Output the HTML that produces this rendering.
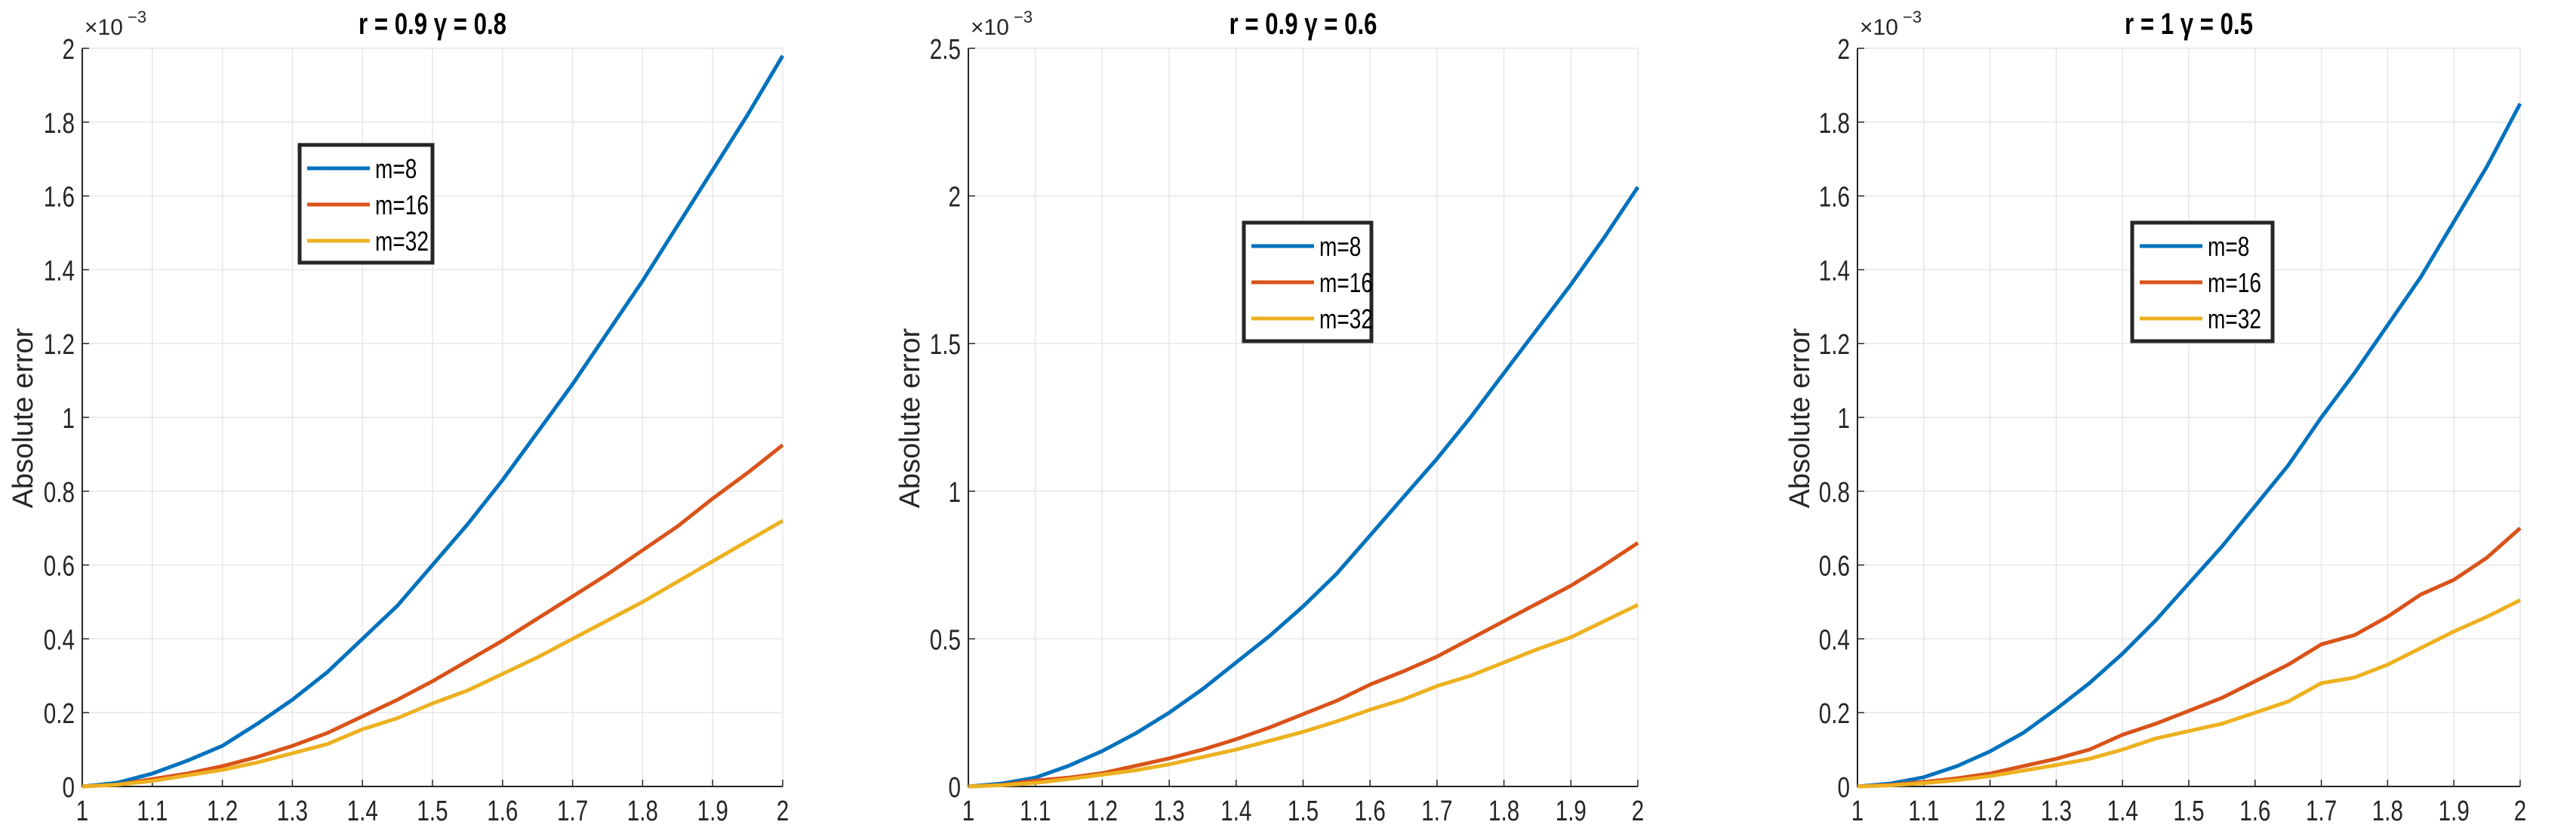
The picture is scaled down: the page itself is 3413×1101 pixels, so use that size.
<!DOCTYPE html>
<html><head><meta charset="utf-8"><style>
html,body{margin:0;padding:0;background:#fff;}
svg text{font-family:"Liberation Sans",sans-serif;}
</style></head><body>
<svg id="chart" width="3413" height="1096" viewBox="0 0 3413 1096" xmlns="http://www.w3.org/2000/svg"></svg>
<script>
const xValues=[1,1.05,1.1,1.15,1.2,1.25,1.3,1.35,1.4,1.45,1.5,1.55,1.6,1.65,1.7,1.75,1.8,1.85,1.9,1.95,2];
const xTicks=[1,1.1,1.2,1.3,1.4,1.5,1.6,1.7,1.8,1.9,2];
const xTickLabels=["1","1.1","1.2","1.3","1.4","1.5","1.6","1.7","1.8","1.9","2"];
const seriesNames=["m=8","m=16","m=32"];
const titles=["r = 0.9 \u03b3 = 0.8","r = 0.9 \u03b3 = 0.6","r = 1 \u03b3 = 0.5"];
const yTicks1=[0,0.2,0.4,0.6,0.8,1,1.2,1.4,1.6,1.8,2];
const yTickLabels1=["0","0.2","0.4","0.6","0.8","1","1.2","1.4","1.6","1.8","2"];
const yTicks2=[0,0.5,1,1.5,2,2.5];
const yTickLabels2=["0","0.5","1","1.5","2","2.5"];
const p1m8=[0,0.01,0.035,0.07,0.11,0.17,0.235,0.31,0.40,0.49,0.60,0.71,0.83,0.96,1.09,1.23,1.37,1.52,1.67,1.82,1.98];
const p1m16=[0,0.005,0.02,0.035,0.055,0.08,0.11,0.145,0.19,0.235,0.285,0.34,0.395,0.455,0.515,0.575,0.64,0.705,0.78,0.85,0.925];
const p1m32=[0,0.005,0.015,0.03,0.045,0.065,0.09,0.115,0.155,0.185,0.225,0.26,0.305,0.35,0.40,0.45,0.50,0.555,0.61,0.665,0.72];
const p2m8=[0,0.01,0.03,0.07,0.12,0.18,0.25,0.33,0.42,0.51,0.61,0.72,0.85,0.98,1.11,1.25,1.40,1.55,1.70,1.86,2.03];
const p2m16=[0,0.005,0.02,0.03,0.045,0.07,0.095,0.125,0.16,0.2,0.245,0.29,0.345,0.39,0.44,0.5,0.56,0.62,0.68,0.75,0.825];
const p2m32=[0,0.004,0.012,0.025,0.04,0.055,0.075,0.1,0.125,0.155,0.185,0.22,0.26,0.295,0.34,0.375,0.42,0.465,0.505,0.56,0.615];
const p3m8=[0,0.008,0.025,0.055,0.095,0.145,0.21,0.28,0.36,0.45,0.55,0.65,0.76,0.87,1.0,1.12,1.25,1.38,1.53,1.68,1.85];
const p3m16=[0,0.004,0.012,0.022,0.035,0.055,0.075,0.1,0.14,0.17,0.205,0.24,0.285,0.33,0.385,0.41,0.46,0.52,0.56,0.62,0.70];
const p3m32=[0,0.003,0.009,0.017,0.028,0.043,0.058,0.075,0.1,0.13,0.15,0.17,0.2,0.23,0.28,0.295,0.33,0.375,0.42,0.46,0.505];

const colors=["#0072BD","#D95319","#EDB120"];
const NS="http://www.w3.org/2000/svg";
const svg=document.getElementById('chart');
function mk(tag,attrs,parent,text){const e=document.createElementNS(NS,tag);for(const k in attrs)e.setAttribute(k,attrs[k]);if(text!==undefined)e.textContent=text;(parent||svg).appendChild(e);return e;}
function ctext(x,y,str,size,anchor,parent,extra){
 const t=mk('text',Object.assign({x:0,y:0,'text-anchor':anchor,'font-size':size,fill:'#262626',transform:`translate(${x},${y}) scale(0.78,1)`},extra||{}),parent,str);
 return t;
}

const panels=[
 {x0:109,x1:1037,ymax:2,yt:yTicks1,ytl:yTickLabels1,series:[p1m8,p1m16,p1m32],leg:[397,192,176,156],ylab:43},
 {x0:1283,x1:2170,ymax:2.5,yt:yTicks2,ytl:yTickLabels2,series:[p2m8,p2m16,p2m32],leg:[1648,295,169,157],ylab:1218},
 {x0:2461,x1:3339,ymax:2,yt:yTicks1,ytl:yTickLabels1,series:[p3m8,p3m16,p3m32],leg:[2825,295,186,157],ylab:2397}
];
const Y0=1042,Y1=64;
panels.forEach((p,pi)=>{
 const g=mk('g',{});
 
 
 const sx=v=>p.x0+(v-1)*(p.x1-p.x0);
 const sy=v=>Y0-v/p.ymax*(Y0-Y1);
 xTicks.forEach((t,i)=>{
  const l=mk('line',{x1:sx(t),x2:sx(t),y1:Y1,y2:Y0,stroke:'#e6e6e6','stroke-width':1.5},g);
  
  
 });
 p.yt.forEach((t,i)=>{
  const l=mk('line',{x1:p.x0,x2:p.x1,y1:sy(t),y2:sy(t),stroke:'#e6e6e6','stroke-width':1.5},g);
  
  
 });
 const ax=mk('path',{d:`M${p.x0},${Y1} L${p.x0},${Y0} L${p.x1},${Y0}`,fill:'none',stroke:'#262626','stroke-width':2},g);
 
 
 xTicks.forEach((t,i)=>{
  mk('line',{x1:sx(t),x2:sx(t),y1:Y0,y2:Y0-9,stroke:'#262626','stroke-width':1.5},g);
  const tx=ctext(sx(t),Y0+45,xTickLabels[i],38,'middle',g);
  
  
 });
 p.yt.forEach((t,i)=>{
  mk('line',{x1:p.x0,x2:p.x0+9,y1:sy(t),y2:sy(t),stroke:'#262626','stroke-width':1.5},g);
  const tx=ctext(p.x0-10,sy(t)+14,p.ytl[i],38,'end',g);
  
  
 });
 const ex=mk('text',{x:p.x0+3,y:46,'font-size':30,fill:'#262626'},g,'\u00d710');
 
 
 mk('text',{x:p.x0+60,y:30,'font-size':22,fill:'#262626'},g,'\u22123');
 const tt=ctext((p.x0+p.x1)/2,45,titles[pi],40,'middle',g,{'font-weight':'bold',fill:'#000'});
 
 
 const yl=mk('text',{x:0,y:0,'text-anchor':'middle','font-size':38,fill:'#262626',transform:`translate(${p.ylab},${554}) rotate(-90)`},g,'Absolute error');
 
 
 p.series.forEach((s,si)=>{
  const d=s.map((v,i)=>(i?'L':'M')+sx(xValues[i]).toFixed(1)+','+sy(v).toFixed(1)).join(' ');
  const pl=mk('path',{d:d,fill:'none',stroke:colors[si],'stroke-width':5,'stroke-linejoin':'round'},g);
  
  
 });
 const [lx,ly,lw,lh]=p.leg;
 const lg=mk('g',{},g);
 
 
 mk('rect',{x:lx,y:ly,width:lw,height:lh,fill:'#fff',stroke:'#262626','stroke-width':5},lg);
 seriesNames.forEach((n,si)=>{
  const yy=ly+31+si*48;
  const le=mk('line',{x1:lx+10,x2:lx+93,y1:yy,y2:yy,stroke:colors[si],'stroke-width':5},lg);
  
  
  const lt=ctext(lx+100,yy+13,n,36,'start',lg,{fill:'#000'});
  
  
 });
});
</script>
</body></html>
